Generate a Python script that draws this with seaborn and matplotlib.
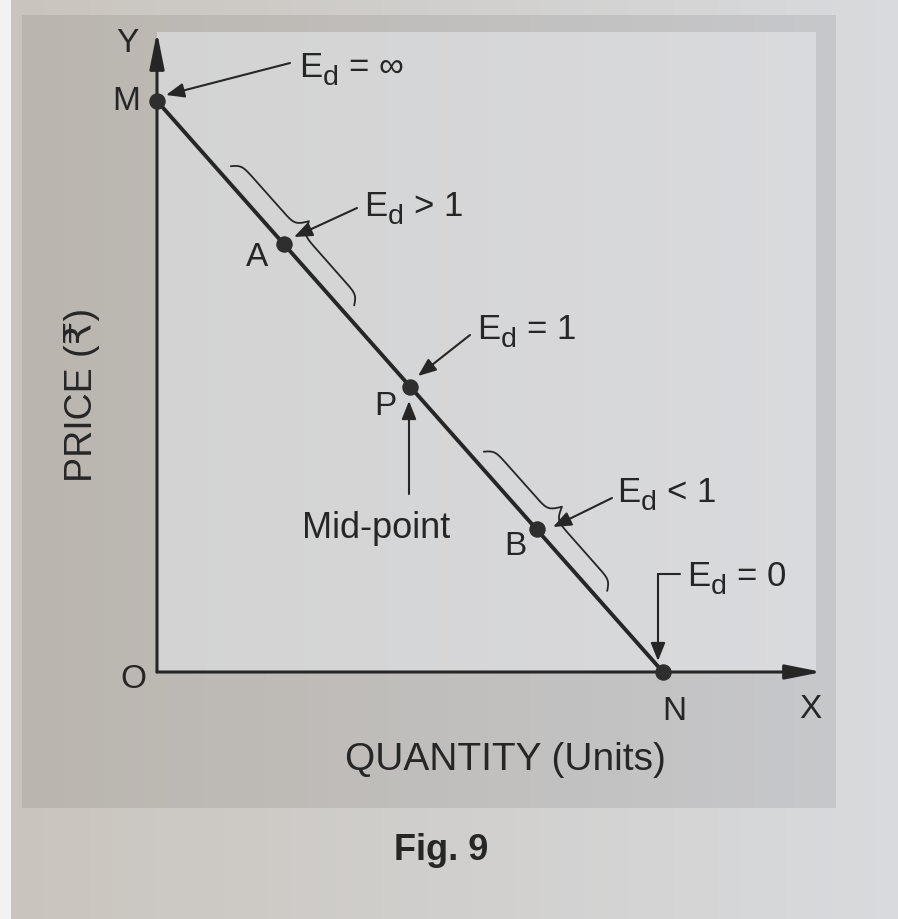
import numpy as np
import matplotlib
matplotlib.use("Agg")
import matplotlib.pyplot as plt
import matplotlib.transforms as mtransforms
from matplotlib.patches import Rectangle
from matplotlib.lines import Line2D
from matplotlib.colors import to_rgb
import seaborn as sns

# ---- data: points on a straight-line demand curve ----
point_names = ["M", "A", "P", "B", "N"]
quantity = [0.0, 2.5, 5.0, 7.5, 10.0]
price = [10.0, 7.5, 5.0, 2.5, 0.0]
elasticity_labels = ["= ∞", "> 1", "= 1", "< 1", "= 0"]
x_title = "QUANTITY (Units)"
y_title = "PRICE (₹)"
caption = "Fig. 9"

sns.set_theme(style="white")
plt.rcParams["font.family"] = ["Liberation Sans", "DejaVu Sans"]

W, H = 898, 919
ink = "#262626"
fig = plt.figure(figsize=(W / 100, H / 100), dpi=100)
fig.patch.set_facecolor("#d6d7da")
ax = fig.add_axes([0, 0, 1, 1])
renderer = fig.canvas.get_renderer()

# pixel-space transform (origin top-left) for page decoration
pix = mtransforms.Affine2D().scale(1 / W, -1 / H).translate(0, 1) + fig.transFigure


def gradient_box(x0, y0, w, h, c_left, c_right, n=40, z=0):
    a, b = np.array(to_rgb(c_left)), np.array(to_rgb(c_right))
    step = w / n
    for i in range(n):
        c = a + (b - a) * (i / (n - 1))
        ax.add_patch(Rectangle((x0 + i * step, y0), step + 0.6, h, transform=pix,
                               facecolor=c, edgecolor="none", zorder=z))


# page, grey figure panel and the lighter plotting field
gradient_box(0, 0, W, H, "#c9c4bd", "#d8dadd", z=0)
ax.add_patch(Rectangle((0, 0), 11, H, transform=pix, facecolor="#f2f2f2",
                       edgecolor="none", zorder=0.1))
gradient_box(22, 15, 813, 793, "#bab5ae", "#c6c7ca", z=0.2)
gradient_box(157, 32, 658, 640, "#d3d3d3", "#d9dadd", z=0.3)

# ---- demand curve and its points ----
sns.lineplot(x=quantity, y=price, ax=ax, color=ink, lw=2.8, zorder=4)
sns.scatterplot(x=quantity, y=price, ax=ax, s=120, color="#2e2e2e",
                edgecolor="#2e2e2e", zorder=5, legend=False)

# data limits chosen so the axes fill the whole figure
ox, oy, ux, uy = 157, 672, 50.6, 57.1
ax.set_xlim(-ox / ux, (W - ox) / ux)
ax.set_ylim((oy - H) / uy, oy / uy)
ax.autoscale(False)
ax.set_axis_off()

# axes with arrow heads
axis_style = dict(arrowstyle="-|>,head_length=1.0,head_width=0.2", color=ink,
                  lw=2.2, shrinkA=0, shrinkB=0, mutation_scale=22)
ax.annotate("", xy=(0, (oy - 32) / uy), xytext=(0, 0), arrowprops=axis_style, zorder=3)
ax.annotate("", xy=((822 - ox) / ux, 0), xytext=(0, 0), arrowprops=axis_style, zorder=3)

fs_pt = 24
ax.text(127, 44, "Y", transform=pix, fontsize=fs_pt, ha="center", va="center", color=ink)
ax.text(810, 710, "X", transform=pix, fontsize=fs_pt, ha="center", va="center", color=ink)
ax.text(133, 679, "O", transform=pix, fontsize=fs_pt, ha="center", va="center", color=ink)

# point labels
label_offsets = {"M": (-31, 0), "A": (-26, -14), "P": (-25, -20),
                 "B": (-21, -17), "N": (11, -39)}
for name, q, p in zip(point_names, quantity, price):
    ax.annotate(name, xy=(q, p), xytext=label_offsets[name], textcoords="offset pixels",
                fontsize=fs_pt, ha="center", va="center", color=ink, zorder=6)

fs_e = 25


def elasticity_text(x, y, rest):
    """E with a lowered subscript d, followed by the relation."""
    t = ax.text(x, y, "E", transform=pix, fontsize=fs_e, ha="left", va="baseline", color=ink)
    w = t.get_window_extent(renderer).width
    t2 = ax.text(x + w + 0.5, y + 8, "d", transform=pix, fontsize=fs_e * 0.82, ha="left",
                 va="baseline", color=ink)
    w2 = t2.get_window_extent(renderer).width
    ax.text(x + w + w2 + 11, y, rest, transform=pix, fontsize=fs_e, ha="left",
            va="baseline", color=ink)


# elasticity call-outs
arrow_style = dict(arrowstyle="-|>,head_length=0.55,head_width=0.22", color=ink,
                   lw=1.5, shrinkA=0, shrinkB=0, mutation_scale=20)
callouts = [  # text anchor (left, baseline), arrow start, arrow tip
    ((299, 77), (290, 63), (166, 95)),
    ((364, 216), (357, 208), (294, 237)),
    ((477, 339), (470, 335), (418, 376)),
    ((617, 502), (612, 498), (553, 527)),
]
for rel, (tpos, a0, a1) in zip(elasticity_labels[:4], callouts):
    elasticity_text(*tpos, rel)
    ax.annotate("", xy=a1, xycoords=pix, xytext=a0, textcoords=pix, arrowprops=arrow_style)

elasticity_text(687, 586, elasticity_labels[4])
ax.add_line(Line2D([680, 658], [574, 574], transform=pix, color=ink, lw=1.5))
ax.annotate("", xy=(658, 661), xycoords=pix, xytext=(658, 574), textcoords=pix,
            arrowprops=arrow_style)

# mid-point pointer
ax.annotate("", xy=(409, 401), xycoords=pix, xytext=(409, 494), textcoords=pix,
            arrowprops=arrow_style)
ax.text(376, 528, "Mid-point", transform=pix, fontsize=26, ha="center", va="center",
        color=ink)

# braces marking the elastic and inelastic stretches of the curve
disp = ax.transData.transform(np.column_stack([quantity, price]))
d = disp[-1] - disp[0]
d = d / np.hypot(*d)
nrm = np.array([-d[1], d[0]])


def brace(center, half_len=93, end=12, base=21, tip=34, beta=28):
    u = np.linspace(0, 1, 120)
    off = (end + (base - end) * (2 / (1 + np.exp(-beta * u)) - 1)
           + (tip - base) * 2 / (1 + np.exp(-beta * (u - 1))))
    along = -half_len + u * half_len
    along = np.concatenate([along, -along[::-1]])
    off = np.concatenate([off, off[::-1]])
    pts = center + np.outer(along, d) + np.outer(off, nrm)
    ax.add_line(Line2D(pts[:, 0], pts[:, 1], transform=mtransforms.IdentityTransform(),
                       color=ink, lw=1.3, zorder=4))


brace(disp[1])
brace(disp[3])

# axis titles and caption
ax.text(505, 760, x_title, transform=pix, fontsize=28, ha="center", va="center", color=ink)
ax.text(82, 395, y_title, transform=pix, fontsize=27, ha="center", va="center",
        rotation=90, color=ink)
ax.text(441, 851, caption, transform=pix, fontsize=26, fontweight="bold", ha="center",
        va="center", color=ink)

fig.savefig("out.png", dpi=100, facecolor=fig.get_facecolor())
